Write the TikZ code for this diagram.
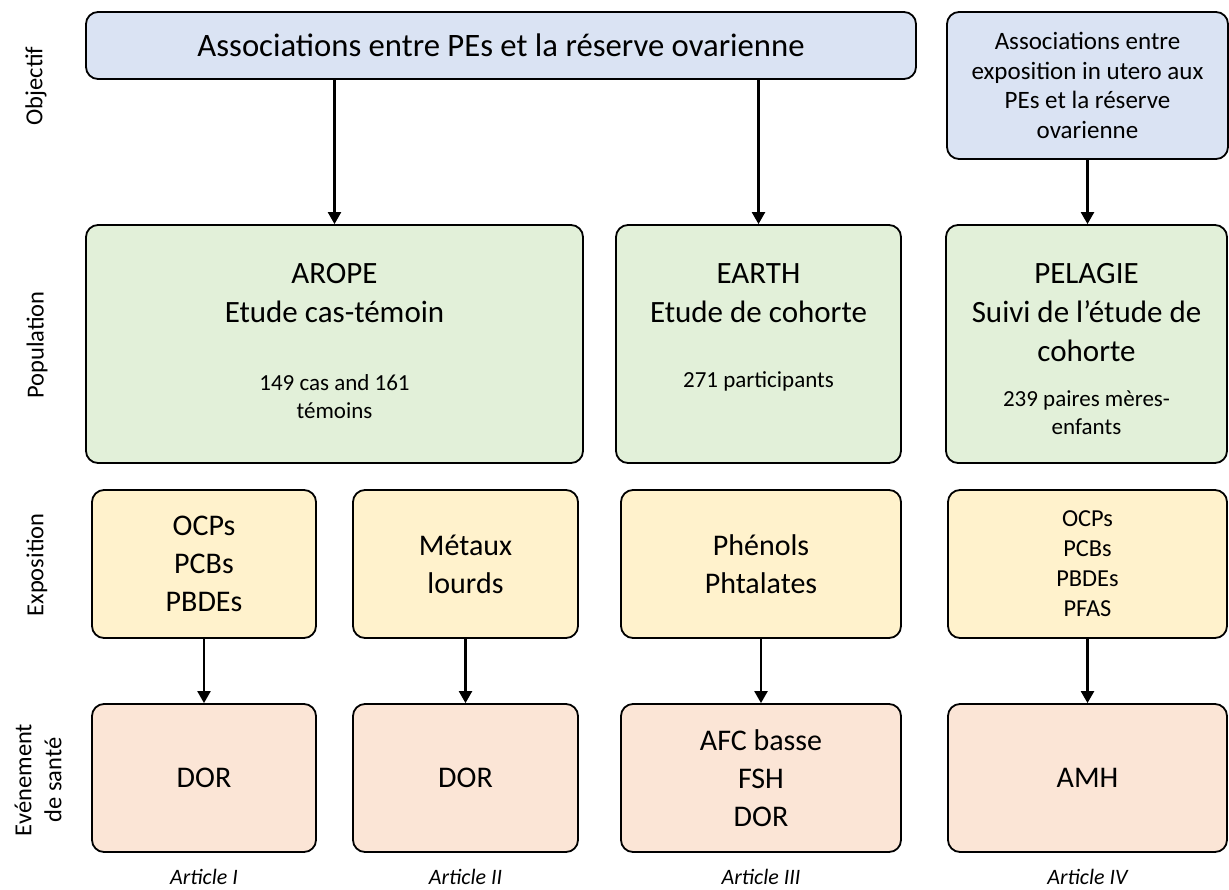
\documentclass[tikz,border=0pt]{standalone}
\usepackage{fontspec}
\setmainfont{Carlito}
\usepackage{xcolor}
\usepackage{tikz}
\usetikzlibrary{positioning,arrows.meta}

\definecolor{objblue}{HTML}{DAE3F3}
\definecolor{popgreen}{HTML}{E2F0D9}
\definecolor{expyellow}{HTML}{FFF2CC}
\definecolor{evtpink}{HTML}{FBE5D6}

\tikzset{
  box/.style={draw=black, line width=1.8pt, rounded corners=12pt, inner sep=0pt, align=center},
  objbox/.style={box, fill=objblue},
  popbox/.style={box, fill=popgreen, minimum height=238pt},
  expbox/.style={box, fill=expyellow, minimum height=148pt, font=\fontsize{30}{38}\selectfont},
  evtbox/.style={box, fill=evtpink, minimum height=148pt, font=\fontsize{30}{38}\selectfont},
  bigtxt/.style={align=center, inner sep=0pt, font=\fontsize{31}{39}\selectfont},
  smalltxt/.style={align=center, inner sep=0pt, font=\fontsize{23}{28}\selectfont},
  rowlab/.style={rotate=90, align=center, inner sep=0pt, font=\fontsize{24.5}{30}\selectfont},
  article/.style={inner sep=0pt, anchor=base, font=\fontsize{22}{26}\selectfont\itshape},
  arr/.style={line width=2.3pt, -{Triangle[length=12pt,width=13pt]}},
}

\begin{document}
\begin{tikzpicture}[x=1pt,y=-1pt]
  \useasboundingbox (0,0) rectangle (1229,889);

  % objectifs
  \node[objbox, minimum width=830pt, minimum height=67pt, font=\fontsize{32.7}{40}\selectfont] (obj) at (501,45.5) {Associations entre PEs et la réserve ovarienne};
  \node[objbox, minimum width=281pt, minimum height=147pt, font=\fontsize{25}{29.5}\selectfont] (objIV) at (1087.5,85.5) {Associations entre\\exposition in utero aux\\PEs et la réserve\\ovarienne};

  % populations
  \node[popbox, minimum width=497pt] (arope) at (334.5,344) {};
  \node[bigtxt, below=39pt of arope.north] (aropeT) {AROPE\\Etude cas-témoin};
  \node[smalltxt, below=150pt of arope.north] (aropeN) {149 cas and 161\\témoins};

  \node[popbox, minimum width=285pt] (earth) at (758.5,344) {};
  \node[bigtxt, below=39pt of earth.north] (earthT) {EARTH\\Etude de cohorte};
  \node[smalltxt, below=147pt of earth.north] (earthN) {271 participants};

  \node[popbox, minimum width=281pt] (pelagie) at (1086.5,344) {};
  \node[bigtxt, below=39pt of pelagie.north] (pelagieT) {PELAGIE\\Suivi de l’étude de\\cohorte};
  \node[smalltxt, below=166pt of pelagie.north] (pelagieN) {239 paires mères-\\enfants};

  % expositions
  \node[expbox, minimum width=224pt] (exp1) at (204,564) {OCPs\\PCBs\\PBDEs};
  \node[expbox, minimum width=225pt] (exp2) at (465.5,564) {Métaux\\lourds};
  \node[expbox, minimum width=280pt] (exp3) at (761,564) {Phénols\\Phtalates};
  \node[expbox, minimum width=279pt, font=\fontsize{24.4}{30}\selectfont] (exp4) at (1087.5,564) {OCPs\\PCBs\\PBDEs\\PFAS};

  % evenements
  \node[evtbox, minimum width=224pt] (evt1) at (204,778) {DOR};
  \node[evtbox, minimum width=225pt] (evt2) at (465.5,778) {DOR};
  \node[evtbox, minimum width=280pt] (evt3) at (761,778) {AFC basse\\FSH\\DOR};
  \node[evtbox, minimum width=279pt] (evt4) at (1087.5,778) {AMH};

  % fleches
  \draw[arr] (obj.south -| arope.north) -- (arope.north);
  \draw[arr] (obj.south -| earth.north) -- (earth.north);
  \draw[arr] (objIV.south) -- (objIV.south |- pelagie.north);
  \foreach \i in {1,...,4}
    \draw[arr] (exp\i.south) -- (exp\i.south |- evt\i.north);

  % lignes
  \node[rowlab] (labObj) at (36,86) {Objectif};
  \node[rowlab] (labPop) at (37,345) {Population};
  \node[rowlab] (labExp) at (37,565) {Exposition};
  \node[rowlab] (labEvt) at (38,780) {Evénement\\de santé};

  % articles
  \node[article] (artI) at ([yshift=-32pt]evt1.south) {Article I};
  \node[article] (artII) at ([yshift=-32pt]evt2.south) {Article II};
  \node[article] (artIII) at ([yshift=-32pt]evt3.south) {Article III};
  \node[article] (artIV) at ([yshift=-32pt]evt4.south) {Article IV};
\end{tikzpicture}
\end{document}
